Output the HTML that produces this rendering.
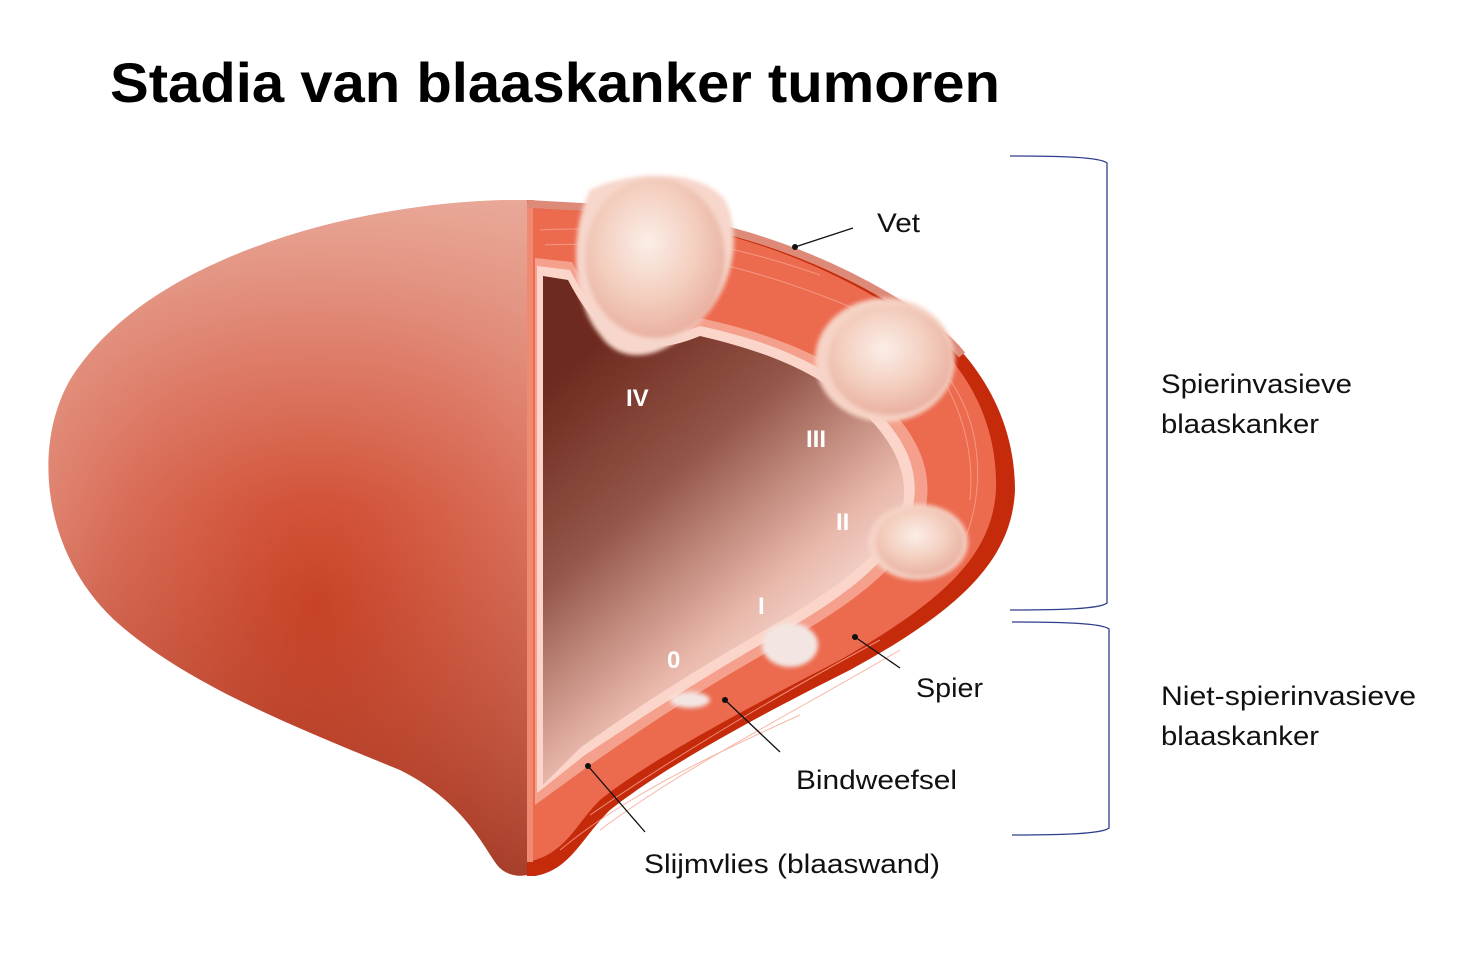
<!DOCTYPE html>
<html><head><meta charset="utf-8"><style>
html,body{margin:0;padding:0;background:#fff;}
svg{display:block}
text{font-family:"Liberation Sans",sans-serif;}
</style></head><body>
<svg width="1460" height="953" viewBox="0 0 1460 953" xmlns="http://www.w3.org/2000/svg">
<defs>
<radialGradient id="outer" cx="0.55" cy="0.6" r="0.7">
<stop offset="0" stop-color="#c8300f"/>
<stop offset="0.6" stop-color="#d86a55"/>
<stop offset="1" stop-color="#e7a595"/>
</radialGradient>
<linearGradient id="outerv" x1="0" y1="0" x2="0" y2="1">
<stop offset="0" stop-color="#e9a898" stop-opacity="0.9"/>
<stop offset="0.45" stop-color="#dc7560" stop-opacity="0.3"/>
<stop offset="1" stop-color="#8e1e08" stop-opacity="0.7"/>
</linearGradient>
<linearGradient id="cav" x1="0.2" y1="0.1" x2="0.7" y2="0.9">
<stop offset="0" stop-color="#6e2a1e"/>
<stop offset="0.35" stop-color="#935648"/>
<stop offset="0.7" stop-color="#e9b8ab"/>
<stop offset="1" stop-color="#fff2ee"/>
</linearGradient>
<radialGradient id="tum" cx="0.45" cy="0.4" r="0.6">
<stop offset="0" stop-color="#fbeee8"/>
<stop offset="0.6" stop-color="#f3cdbd"/>
<stop offset="1" stop-color="#e9b0a0"/>
</radialGradient>
<filter id="bl"><feGaussianBlur stdDeviation="2"/></filter>
</defs>
<text x="110" y="102" font-size="56" font-weight="bold" fill="#000" textLength="890" lengthAdjust="spacingAndGlyphs">Stadia van blaaskanker tumoren</text>

<path d="M527,200 C380,198 150,250 70,380 C30,450 45,560 120,625 C190,685 290,725 400,770 C460,800 480,840 495,862 C505,878 525,878 535,872 L535,200 Z" fill="url(#outer)"/>
<path d="M527,200 C380,198 150,250 70,380 C30,450 45,560 120,625 C190,685 290,725 400,770 C460,800 480,840 495,862 C505,878 525,878 535,872 L535,200 Z" fill="url(#outerv)"/>

<path d="M527,200 L600,205 C700,215 800,240 900,300 C980,350 1015,420 1015,490 C1012,560 960,610 850,670 C750,720 660,770 610,810 C580,840 570,870 535,876 L527,876 Z" fill="#c52a0b"/>
<path d="M527,204 L600,208 C700,218 800,243 898,303 C930,322 950,340 962,355" stroke="#de8a78" stroke-width="8" fill="none"/>
<path d="M527,208 L600,212 C700,222 800,249 895,309 C965,356 998,420 996,490 C992,555 945,600 840,660 C740,712 650,760 600,800 C575,825 565,855 527,862 Z" fill="#ec6a4e"/>
<g stroke="#f6a592" stroke-width="1" fill="none" opacity="0.8">
<path d="M540,230 C620,225 720,240 820,275"/><path d="M545,245 C640,240 760,265 880,320"/>
<path d="M930,360 C960,400 975,450 970,500"/><path d="M950,380 C985,430 985,500 960,550"/>
<path d="M600,830 C680,770 780,720 900,650"/><path d="M590,815 C670,760 760,705 880,640"/>
<path d="M560,850 C620,800 700,760 800,715"/>
</g>
<rect x="527" y="208" width="6" height="654" fill="#f08a70"/>
<path d="M535,258 L572,262 C600,316 630,346 700,318 C760,331 820,351 870,391 C915,426 935,470 925,510 C910,560 860,600 780,645 C700,690 640,730 590,765 L535,805 Z" fill="#f4a08c"/>
<path d="M537,266 L570,270 C598,323 630,354 700,326 C760,339 815,358 862,398 C905,433 922,472 912,510 C898,555 850,595 772,638 C695,682 635,722 585,755 L537,793 Z" fill="#fbd5ca"/>
<path d="M543,276 L568,280 C595,332 630,365 700,336 C760,350 810,368 855,405 C895,440 910,475 902,510 C888,550 840,588 765,630 C690,673 630,712 580,748 L543,785 Z" fill="url(#cav)"/>

<g filter="url(#bl)">
<path d="M590,190 C630,170 700,168 725,200 C745,240 730,300 690,330 C660,360 620,365 600,335 C570,300 570,230 590,190 Z" fill="#f7d6cb"/>
<ellipse cx="655" cy="258" rx="70" ry="80" fill="url(#tum)"/>
<ellipse cx="885" cy="360" rx="70" ry="62" fill="#f6d3c6"/>
<ellipse cx="890" cy="360" rx="62" ry="55" fill="url(#tum)"/>
<ellipse cx="918" cy="542" rx="50" ry="38" fill="#f6d3c6"/>
<ellipse cx="920" cy="542" rx="44" ry="34" fill="url(#tum)"/>
<ellipse cx="790" cy="645" rx="28" ry="22" fill="#f3e6e2"/>
<ellipse cx="690" cy="700" rx="20" ry="8" fill="#f3e6e2"/>
</g>

<g fill="#fff" font-weight="bold" font-size="24">
<text x="626" y="406">IV</text><text x="806" y="447">III</text><text x="836" y="530">II</text>
<text x="758" y="614">I</text><text x="667" y="668">0</text>
</g>

<g stroke="#111" stroke-width="1.3">
<line x1="795" y1="247" x2="853" y2="228"/>
<line x1="855" y1="637" x2="900" y2="668"/>
<line x1="725" y1="700" x2="780" y2="752"/>
<line x1="588" y1="766" x2="645" y2="832"/>
</g>
<g fill="#111"><circle cx="795" cy="247" r="3"/><circle cx="855" cy="637" r="3"/><circle cx="725" cy="700" r="3"/><circle cx="588" cy="766" r="3"/></g>

<g font-size="27" fill="#111">
<text x="877" y="232" textLength="43" lengthAdjust="spacingAndGlyphs">Vet</text>
<text x="916" y="697" textLength="67" lengthAdjust="spacingAndGlyphs">Spier</text>
<text x="796" y="789" textLength="161" lengthAdjust="spacingAndGlyphs">Bindweefsel</text>
<text x="644" y="873" textLength="296" lengthAdjust="spacingAndGlyphs">Slijmvlies (blaaswand)</text>
<text x="1161" y="393" textLength="191" lengthAdjust="spacingAndGlyphs">Spierinvasieve</text>
<text x="1161" y="433" textLength="158" lengthAdjust="spacingAndGlyphs">blaaskanker</text>
<text x="1161" y="705" textLength="255" lengthAdjust="spacingAndGlyphs">Niet-spierinvasieve</text>
<text x="1161" y="745" textLength="158" lengthAdjust="spacingAndGlyphs">blaaskanker</text>
</g>

<g stroke="#2f3d8c" stroke-width="1.3" fill="none">
<path d="M1010,156 C1060,156 1100,157 1107,163 L1107,603 C1100,609 1060,610 1010,610"/>
<path d="M1012,622 C1060,622 1102,623 1109,629 L1109,828 C1102,834 1060,835 1012,835"/>
</g>
</svg>
</body></html>
